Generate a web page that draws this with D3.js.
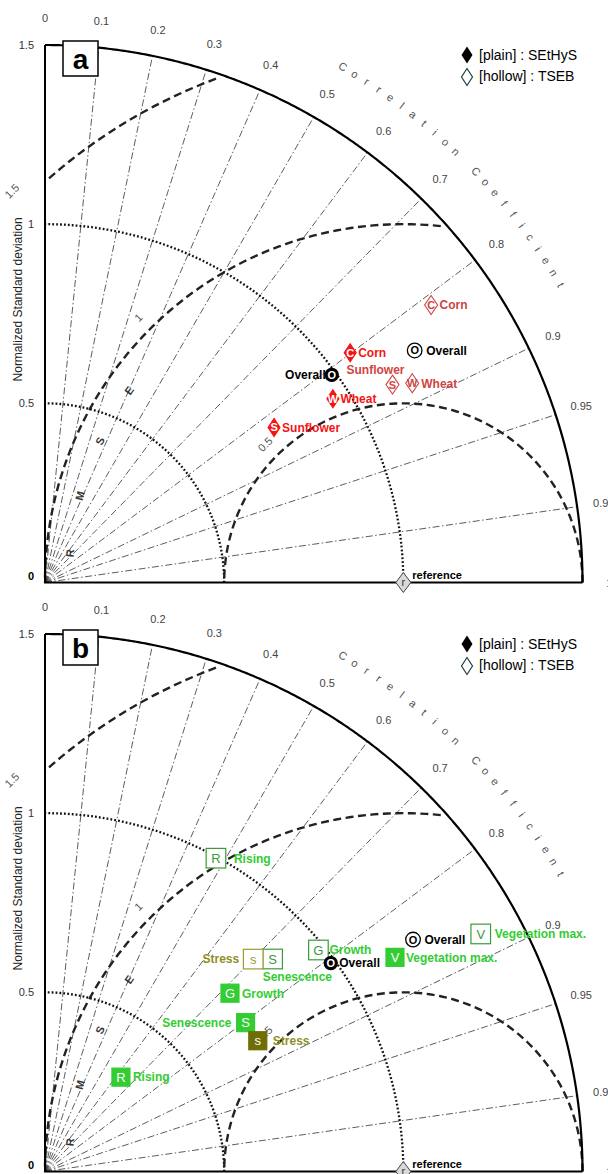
<!DOCTYPE html>
<html><head><meta charset="utf-8">
<script src="https://cdn.jsdelivr.net/npm/d3@7"></script>
<style>body{margin:0;background:#fff}svg{display:block}text{font-family:"Liberation Sans",Arial,sans-serif}</style>
</head><body><svg id="chart" width="608" height="1174"></svg>
<script>
// ---------- DATA ----------
const stdTicks = [0, 0.5, 1, 1.5];
const stdTickLabels = ["0", "0.5", "1", "1.5"];
const stdGridTicks = [0.5, 1];
const corrTicks = [0, 0.1, 0.2, 0.3, 0.4, 0.5, 0.6, 0.7, 0.8, 0.9, 0.95, 0.99, 1];
const corrTickLabels = ["0", "0.1", "0.2", "0.3", "0.4", "0.5", "0.6", "0.7", "0.8", "0.9", "0.95", "0.99", "1"];
const rmsTicks = [0.5, 1, 1.5];
const rmsTickLabels = ["0.5", "1", "1.5"];
const rmsTitleLetters = ["R", "M", "S", "E"];
const corrTitle = "Correlation Coefficient";
const yTitle = "Normalized Standard deviation";
const legendLabels = ["[plain] : SEtHyS", "[hollow] : TSEB"];

// panel a : crops
const cropNames = ["Corn", "Wheat", "Sunflower", "Overall"];
const cropLetters = ["C", "W", "S", "O"];
const cropSethysStd = [1.066, 0.953, 0.772, 0.988];
const cropSethysCorr = [0.799, 0.843, 0.828, 0.810];
const cropTsebStd = [1.327, 1.166, 1.116, 1.218];
const cropTsebCorr = [0.812, 0.879, 0.869, 0.847];

// panel b : phenological phases
const phaseNames = ["Rising", "Growth", "Vegetation max.", "Senescence", "Stress", "Overall"];
const phaseLetters = ["R", "G", "V", "S", "s", "O"];
const phaseSethysStd = [0.338, 0.717, 1.145, 0.697, 0.697, 0.987];
const phaseSethysCorr = [0.627, 0.720, 0.853, 0.803, 0.852, 0.808];
const phaseTsebStd = [0.996, 0.982, 1.385, 0.869, 0.830, 1.214];
const phaseTsebCorr = [0.479, 0.777, 0.878, 0.731, 0.700, 0.846];

// ---------- LAYOUT / STYLE ----------
const maxStd = 1.5, R = 537.5;
const rs = d3.scaleLinear().domain([0, maxStd]).range([0, R]);
const svg = d3.select("#chart");

// label placement per point: [dx, dy, anchor]
const cropSethysLab = [[8, 0, "start"], [7.5, 0, "start"], [8, 0, "start"], [-6, 0, "end"]];
const cropTsebLab = [[8.5, 0, "start"], [9, 0, "start"], [-17, -15, "middle"], [11.5, 0, "start"]];
const phaseSethysLab = [[12, 0, "start"], [12, 0, "start"], [11, 0, "start"], [-14, 0, "end"], [15, 0, "start"], [8.5, 0, "start"]];
const phaseTsebLab = [[18, 0, "start"], [11, 0, "start"], [14, 0, "start"], [-10, 18, "start"], [-14, 0, "end"], [11.5, 0, "start"]];

const redFill = "#f51414", redHollow = "#cf4444";
const greenFill = "#33cc33", greenHollow = "#3a9a3a", greenLab = "#33cc33";
const oliveFill = "#6e6e05", oliveHollow = "#9c9c35", oliveLab = "#8f8f1f";

function pol(ox, oy, std, corr) {
  const th = Math.acos(corr);
  return [ox + rs(std * Math.cos(th)), oy - rs(std * Math.sin(th))];
}
function xy(ox, oy, x, y) { return [ox + rs(x), oy - rs(y)]; }
const line = d3.line();
function diamond(hw, hh) { return `M0,${-hh}L${hw},0L0,${hh}L${-hw},0Z`; }

function drawGrid(g, ox, oy) {
  // correlation rays
  g.selectAll(".cline").data(corrTicks.filter(c => c > 0 && c < 1)).join("path")
    .attr("d", c => line([[ox, oy], pol(ox, oy, maxStd, c)]))
    .attr("fill", "none").attr("stroke", "#333").attr("stroke-width", 0.8)
    .attr("stroke-dasharray", "7,2.5,1.5,2.5");
  // std dotted arcs
  g.selectAll(".sarc").data(stdGridTicks).join("path")
    .attr("d", s => line(d3.range(0, 90.5, 0.5).map(a => xy(ox, oy, s * Math.cos(a * Math.PI / 180), s * Math.sin(a * Math.PI / 180)))))
    .attr("fill", "none").attr("stroke", "#111").attr("stroke-width", 2.3).attr("stroke-dasharray", "1.8,2.1");
  // RMS dashed arcs
  g.selectAll(".rarc").data(rmsTicks).join("path")
    .attr("d", rr => {
      const pts = [];
      for (let k = 0; k <= 150; k++) {
        const ph = k * Math.PI / 150;
        const x = 1 + rr * Math.cos(ph), y = rr * Math.sin(ph);
        if (Math.hypot(x, y) <= maxStd + 1e-9 && x >= -1e-9) pts.push(xy(ox, oy, x, y));
      }
      if (rr > 1) pts.push(xy(ox, oy, 0, Math.sqrt(rr * rr - 1)));
      return line(pts);
    })
    .attr("fill", "none").attr("stroke", "#222").attr("stroke-width", 2.4).attr("stroke-dasharray", "8,4.5");
  // outer arc & axes
  g.append("path").attr("d", line(d3.range(0, 90.25, 0.25).map(a => xy(ox, oy, maxStd * Math.cos(a * Math.PI / 180), maxStd * Math.sin(a * Math.PI / 180)))))
    .attr("fill", "none").attr("stroke", "#000").attr("stroke-width", 2.2);
  g.append("path").attr("d", line([xy(ox, oy, 0, maxStd), [ox, oy], xy(ox, oy, maxStd, 0)]))
    .attr("fill", "none").attr("stroke", "#000").attr("stroke-width", 2);

  // std tick labels
  g.selectAll(".stl").data(stdTicks).join("text")
    .attr("x", ox - 11).attr("y", s => oy - rs(s) + (s === 0 ? -3 : 4))
    .attr("text-anchor", "end").attr("font-size", 11)
    .attr("font-weight", s => s === 0 ? "bold" : "normal")
    .attr("fill", s => s === 0 ? "#000" : "#333")
    .text((s, i) => stdTickLabels[i]);
  // corr tick labels
  g.selectAll(".ctl").data(corrTicks).join("text")
    .attr("transform", c => { const p = pol(ox, oy, maxStd * 1.05, c); return `translate(${p[0]},${p[1] + 4})`; })
    .attr("text-anchor", "middle").attr("font-size", 11).attr("fill", "#444")
    .text((c, i) => corrTickLabels[i]);
  // corr title letters along arc
  const chars = corrTitle.split("");
  g.selectAll(".ctt").data(chars).join("text")
    .attr("transform", (ch, i) => {
      const a = 60 - i * 1.364;
      const p = xy(ox, oy, 1.662 * Math.cos(a * Math.PI / 180), 1.662 * Math.sin(a * Math.PI / 180));
      return `translate(${p[0]},${p[1]}) rotate(${90 - a})`;
    })
    .attr("dy", "0.35em").attr("text-anchor", "middle").attr("font-size", 11).attr("fill", "#555")
    .text(ch => ch);
  // rms tick labels
  g.selectAll(".rtl").data(rmsTicks).join("text")
    .attr("transform", rr => {
      const d = rr + 0.045, ph = 135 * Math.PI / 180;
      const p = xy(ox, oy, 1 + d * Math.cos(ph), d * Math.sin(ph));
      return `translate(${p[0]},${p[1]}) rotate(-45)`;
    })
    .attr("dy", "0.35em").attr("text-anchor", "middle").attr("font-size", 11).attr("fill", "#555")
    .text((rr, i) => rmsTickLabels[i]);
  // RMSE title letters
  g.selectAll(".rtt").data(rmsTitleLetters).join("text")
    .attr("transform", (ch, i) => {
      const ph = 175 - i * 10;
      const p = xy(ox, oy, 1 + 0.934 * Math.cos(ph * Math.PI / 180), 0.934 * Math.sin(ph * Math.PI / 180));
      return `translate(${p[0]},${p[1]}) rotate(${90 - ph})`;
    })
    .attr("dy", "0.35em").attr("text-anchor", "middle").attr("font-size", 11).attr("font-weight", "bold").attr("fill", "#333")
    .text(ch => ch);
  // y title
  g.append("text").attr("transform", `translate(${ox - 23},${oy - rs(0.79)}) rotate(-90)`)
    .attr("text-anchor", "middle").attr("font-size", 12).attr("fill", "#222").text(yTitle);
  // reference marker
  const rp = xy(ox, oy, 1, 0);
  const rg = g.append("g").attr("transform", `translate(${rp[0]},${rp[1]})`);
  rg.append("path").attr("d", diamond(7.5, 10)).attr("fill", "#d9d9d9").attr("stroke", "#444").attr("stroke-width", 1);
  rg.append("text").attr("dy", "0.35em").attr("text-anchor", "middle").attr("font-size", 11).attr("fill", "#333").text("r");
  g.append("text").attr("x", rp[0] + 9).attr("y", rp[1] - 3.5).attr("font-size", 11).attr("font-weight", "bold").attr("fill", "#000").text("reference");
}

function drawLegend(g, oy) {
  const lx = 467, ly = oy - 527.5;
  g.append("path").attr("transform", `translate(${lx},${ly})`).attr("d", diamond(5.5, 8.5)).attr("fill", "#000");
  g.append("path").attr("transform", `translate(${lx},${ly + 22})`).attr("d", diamond(5.5, 8.5)).attr("fill", "#fff").attr("stroke", "#1d3d40").attr("stroke-width", 1.2);
  g.selectAll(".lg").data(legendLabels).join("text")
    .attr("x", lx + 12).attr("y", (d, i) => ly + 5 + i * 21).attr("font-size", 14).attr("fill", "#000").text(d => d);
}

function drawBox(g, oy, letter) {
  g.append("rect").attr("x", 63).attr("y", oy - 541.5).attr("width", 35).attr("height", 35)
    .attr("fill", "#fff").attr("stroke", "#000").attr("stroke-width", 1.5);
  g.append("text").attr("x", 80.5).attr("y", oy - 514).attr("text-anchor", "middle")
    .attr("font-size", 28).attr("font-weight", "bold").attr("fill", "#000").text(letter);
}

function drawPoints(g, ox, oy, recs) {
  const mg = g.selectAll(".pt").data(recs).join("g")
    .attr("transform", d => { const p = pol(ox, oy, d.std, d.corr); return `translate(${p[0]},${p[1]})`; });
  mg.each(function (d) {
    const s = d3.select(this);
    if (d.shape === "circle") {
      s.append("circle").attr("r", d.filled ? 6.5 : 7.3)
        .attr("fill", d.filled ? "#000" : "#fff").attr("stroke", "#000").attr("stroke-width", 1.3);
    } else if (d.shape === "diamond") {
      s.append("path").attr("d", d.filled ? diamond(6, 9) : diamond(6.5, 9.5))
        .attr("fill", d.filled ? d.color : "#fff").attr("stroke", d.color).attr("stroke-width", 1.1);
    } else {
      const h = d.filled ? 9 : 9.8;
      s.append("rect").attr("x", -h).attr("y", -h).attr("width", 2 * h).attr("height", 2 * h)
        .attr("fill", d.filled ? d.color : "#fff").attr("stroke", d.color).attr("stroke-width", 1.2);
    }
    s.append("text").attr("dy", "0.36em").attr("text-anchor", "middle")
      .attr("font-size", d.shape === "square" ? 13 : 11)
      .attr("font-weight", d.shape === "square" ? "normal" : "bold")
      .attr("fill", d.filled ? "#fff" : (d.shape === "circle" ? "#000" : d.color))
      .text(d.letter);
    s.append("text").attr("x", d.lab[0]).attr("y", d.lab[1]).attr("dy", "0.36em")
      .attr("text-anchor", d.lab[2]).attr("font-size", 12).attr("font-weight", "bold")
      .attr("fill", d.labColor).text(d.name);
  });
}

// ---------- PANEL A ----------
const oxA = 45, oyA = 582.5;
const gA = svg.append("g");
drawGrid(gA, oxA, oyA);
const recA = [];
cropNames.forEach((n, i) => {
  const ov = n === "Overall";
  recA.push({ name: n, letter: cropLetters[i], std: cropTsebStd[i], corr: cropTsebCorr[i], filled: false,
    shape: ov ? "circle" : "diamond", color: ov ? "#000" : redHollow, labColor: ov ? "#000" : redHollow, lab: cropTsebLab[i] });
});
cropNames.forEach((n, i) => {
  const ov = n === "Overall";
  recA.push({ name: n, letter: cropLetters[i], std: cropSethysStd[i], corr: cropSethysCorr[i], filled: true,
    shape: ov ? "circle" : "diamond", color: ov ? "#000" : redFill, labColor: ov ? "#000" : redFill, lab: cropSethysLab[i] });
});
drawPoints(gA, oxA, oyA, recA);
drawLegend(gA, oyA);
drawBox(gA, oyA, "a");

// ---------- PANEL B ----------
const oxB = 45, oyB = 1171.5;
const gB = svg.append("g");
drawGrid(gB, oxB, oyB);
const recB = [];
phaseNames.forEach((n, i) => {
  const ov = n === "Overall", st = n === "Stress";
  recB.push({ name: n, letter: phaseLetters[i], std: phaseTsebStd[i], corr: phaseTsebCorr[i], filled: false,
    shape: ov ? "circle" : "square", color: ov ? "#000" : (st ? oliveHollow : greenHollow),
    labColor: ov ? "#000" : (st ? oliveLab : greenLab), lab: phaseTsebLab[i] });
});
phaseNames.forEach((n, i) => {
  const ov = n === "Overall", st = n === "Stress";
  recB.push({ name: n, letter: phaseLetters[i], std: phaseSethysStd[i], corr: phaseSethysCorr[i], filled: true,
    shape: ov ? "circle" : "square", color: ov ? "#000" : (st ? oliveFill : greenFill),
    labColor: ov ? "#000" : (st ? oliveLab : greenLab), lab: phaseSethysLab[i] });
});
drawPoints(gB, oxB, oyB, recB);
drawLegend(gB, oyB);
drawBox(gB, oyB, "b");
</script></body></html>
